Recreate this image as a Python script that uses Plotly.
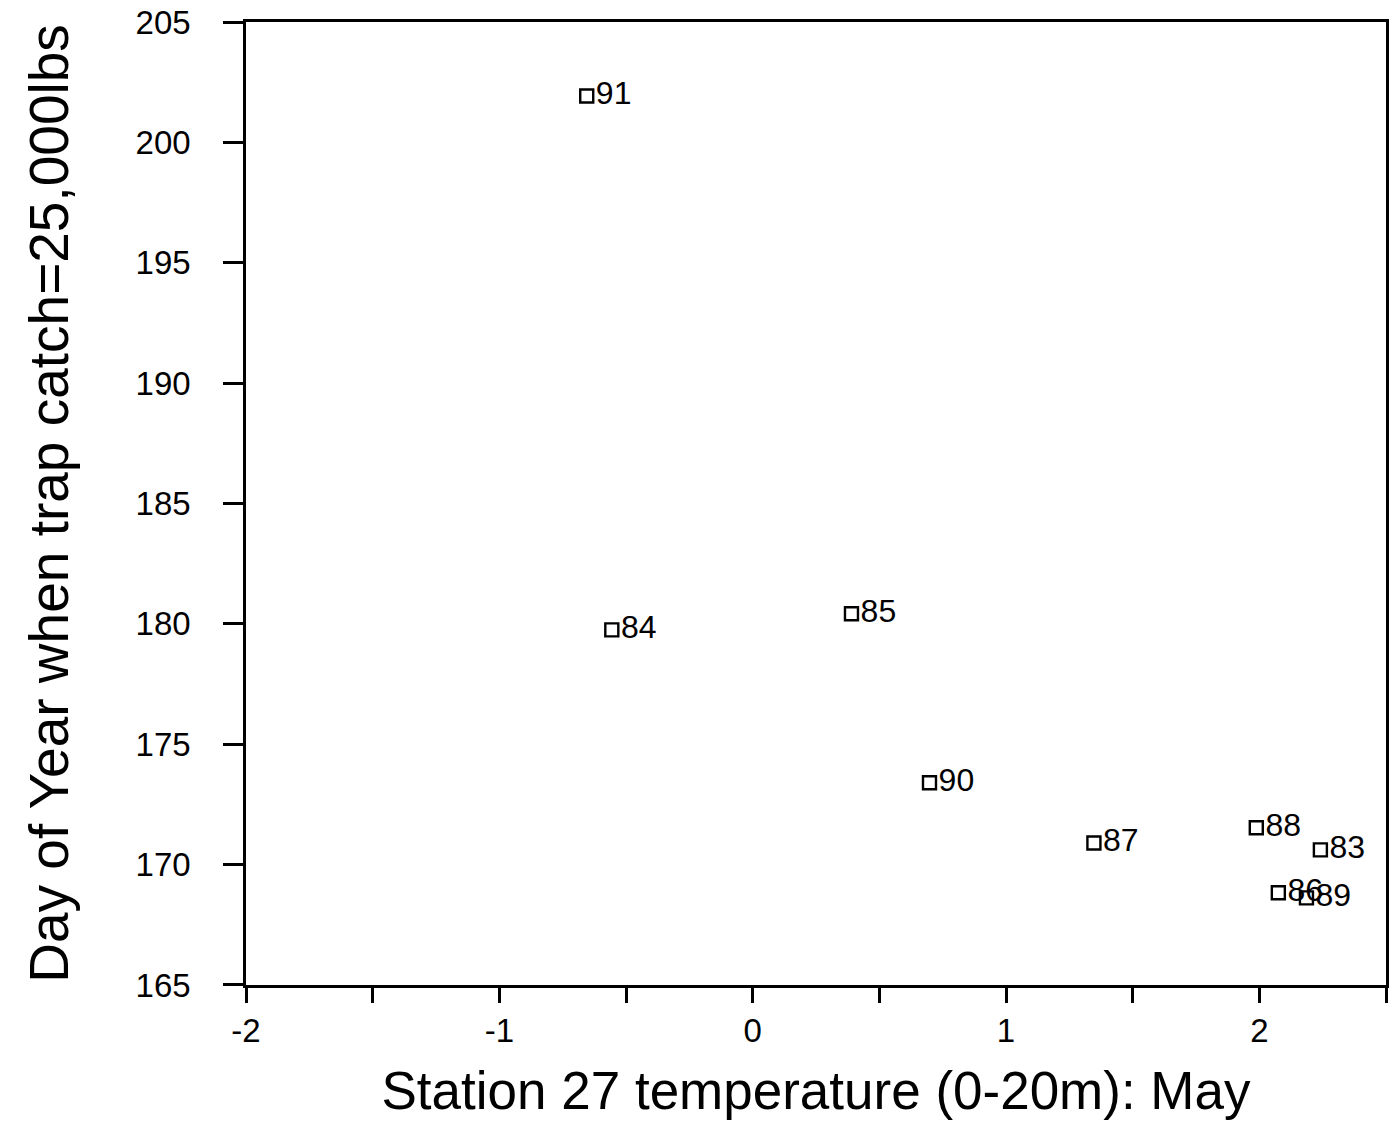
import plotly.graph_objects as go

years = ["91", "84", "85", "90", "87", "88", "83", "86", "89"]
temperature = [-0.655, -0.556, 0.39, 0.698, 1.347, 1.988, 2.241, 2.075, 2.186]
day_of_year = [201.93, 179.75, 180.42, 173.4, 170.9, 171.53, 170.61, 168.83, 168.62]

x_tickvals = [-2, -1.5, -1, -0.5, 0, 0.5, 1, 1.5, 2, 2.5]
x_ticktext = ["-2", "", "-1", "", "0", "", "1", "", "2", ""]
y_tickvals = [165, 170, 175, 180, 185, 190, 195, 200, 205]

font_family = "Liberation Sans, Arial, Helvetica, sans-serif"

fig = go.Figure()
fig.add_trace(go.Scatter(
    x=temperature, y=day_of_year, mode="markers+text",
    text=years, textposition="middle right",
    textfont=dict(family=font_family, size=32, color="black"),
    marker=dict(symbol="square-open", size=13, color="black", line=dict(width=2.4, color="black")),
    cliponaxis=False, showlegend=False,
))

fig.update_layout(
    width=1392, height=1123,
    margin=dict(l=246, r=6, t=22, b=138, autoexpand=False),
    paper_bgcolor="white", plot_bgcolor="white",
    font=dict(family=font_family, color="black"),
    xaxis=dict(
        range=[-2, 2.5], tickvals=x_tickvals, ticktext=x_ticktext,
        ticks="outside", ticklen=15, tickwidth=2.5, tickcolor="black",
        showline=True, linecolor="black", linewidth=2.5, mirror=True,
        showgrid=False, zeroline=False, automargin=False,
        tickfont=dict(size=33),
        title=dict(text="Station 27 temperature (0-20m): May", font=dict(size=53), standoff=24),
    ),
    yaxis=dict(
        range=[164.999, 205.001], tickvals=y_tickvals,
        ticks="outside", ticklen=20, tickwidth=2.5, tickcolor="black",
        showline=True, linecolor="black", linewidth=2.5, mirror=True,
        showgrid=False, zeroline=False, automargin=False,
        tickfont=dict(size=33), ticklabelstandoff=26, ticklabeloverflow="allow",
        title=dict(text="Day of Year when trap catch=25,000lbs", font=dict(size=55), standoff=50),
    ),
)

fig.write_html(
    "out.html",
    config={"displayModeBar": False},
    post_script="document.body.style.margin='0';document.body.style.overflow='hidden';",
)
